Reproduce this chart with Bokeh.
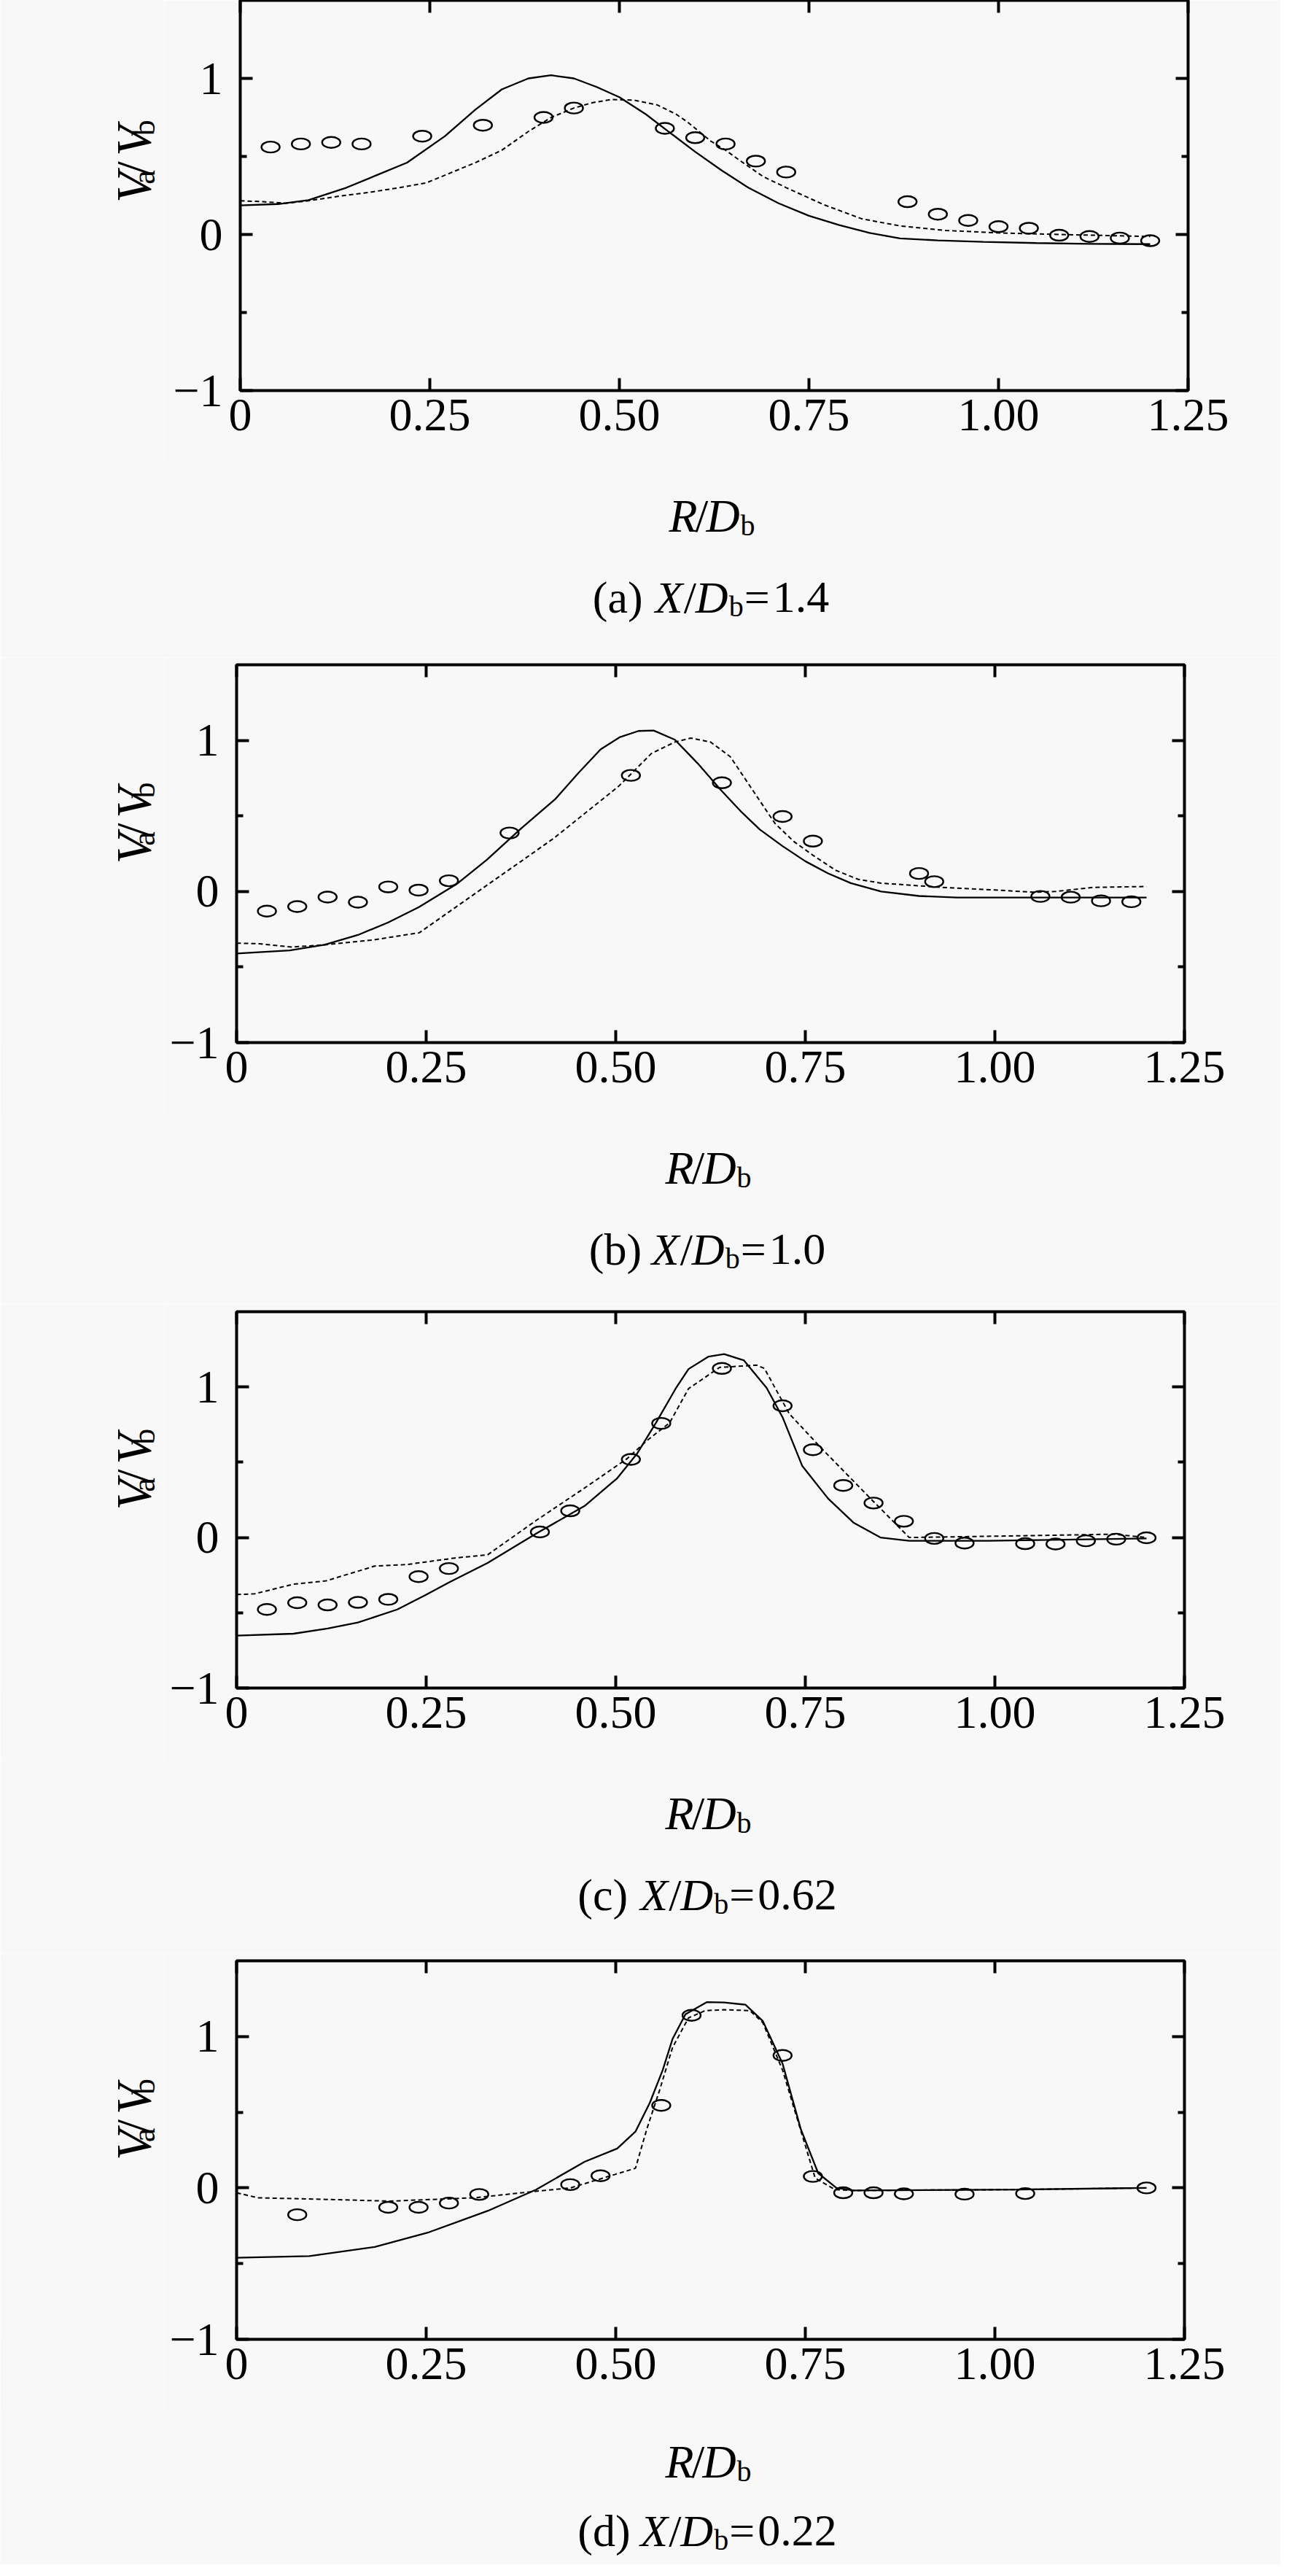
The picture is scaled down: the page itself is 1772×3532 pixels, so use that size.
import math
from bokeh.plotting import figure
from bokeh.models import (LinearAxis, FixedTicker, Range1d, CustomJSTickFormatter,
                          CustomLabelingPolicy)
from bokeh.layouts import column, row
from bokeh.core.properties import value
from bokeh.embed import file_html
from bokeh.resources import INLINE

FONT = "Liberation Serif"
BG = "#f8f8f8"

# ---------------- data ----------------
x_ticks = [0, 0.25, 0.5, 0.75, 1.0, 1.25]
y_ticks = [-1, 0, 1]
y_minor = [-0.5, 0.5]
panel_tags = ["(a)", "(b)", "(c)", "(d)"]
panel_xd = ["1.4", "1.0", "0.62", "0.22"]

# (a) X/Db = 1.4
a_exp_x = [0.04, 0.08, 0.12, 0.16, 0.24, 0.32, 0.40, 0.44, 0.56, 0.60, 0.64, 0.68, 0.72,
           0.88, 0.92, 0.96, 1.00, 1.04, 1.08, 1.12, 1.16, 1.20]
a_exp_y = [0.56, 0.58, 0.59, 0.58, 0.63, 0.70, 0.75, 0.81, 0.68, 0.62, 0.58, 0.47, 0.40,
           0.21, 0.13, 0.09, 0.05, 0.04, -0.005, -0.013, -0.023, -0.04]
a_sol_x = [0, 0.05, 0.09, 0.14, 0.18, 0.22, 0.27, 0.31, 0.345, 0.38, 0.41, 0.44, 0.47, 0.50,
           0.535, 0.57, 0.60, 0.635, 0.67, 0.71, 0.75, 0.79, 0.83, 0.87, 0.92, 0.98, 1.05, 1.12, 1.20]
a_sol_y = [0.186, 0.195, 0.22, 0.30, 0.38, 0.46, 0.63, 0.80, 0.93, 1.00, 1.02, 1.00, 0.945, 0.88,
           0.77, 0.64, 0.53, 0.41, 0.30, 0.20, 0.12, 0.06, 0.01, -0.025, -0.038, -0.047, -0.055, -0.06, -0.062]
a_dash_x = [0, 0.03, 0.06, 0.09, 0.13, 0.17, 0.21, 0.245, 0.28, 0.31, 0.345, 0.38, 0.41, 0.44,
            0.465, 0.49, 0.52, 0.55, 0.575, 0.59, 0.62, 0.64, 0.66, 0.69, 0.72, 0.77, 0.82, 0.87,
            0.93, 1.00, 1.08, 1.20]
a_dash_y = [0.216, 0.21, 0.2, 0.216, 0.245, 0.27, 0.30, 0.33, 0.40, 0.46, 0.54, 0.66, 0.75, 0.81,
            0.845, 0.865, 0.86, 0.83, 0.77, 0.72, 0.60, 0.54, 0.47, 0.37, 0.30, 0.19, 0.10, 0.055,
            0.026, 0.01, 0.0, -0.013]

# (b) X/Db = 1.0
b_exp_x = [0.04, 0.08, 0.12, 0.16, 0.20, 0.24, 0.28, 0.36, 0.52, 0.64, 0.72, 0.76, 0.90, 0.92,
           1.06, 1.10, 1.14, 1.18]
b_exp_y = [-0.13, -0.10, -0.037, -0.071, 0.03, 0.009, 0.071, 0.387, 0.768, 0.719, 0.496, 0.333,
           0.119, 0.065, -0.033, -0.038, -0.062, -0.068]
b_sol_x = [0, 0.07, 0.116, 0.16, 0.20, 0.24, 0.29, 0.33, 0.375, 0.42, 0.45, 0.48, 0.505, 0.53,
           0.55, 0.578, 0.608, 0.638, 0.665, 0.69, 0.72, 0.75, 0.78, 0.81, 0.85, 0.90, 0.95, 1.05, 1.20]
b_sol_y = [-0.411, -0.39, -0.353, -0.288, -0.205, -0.105, 0.048, 0.21, 0.416, 0.61, 0.78, 0.94,
           1.02, 1.062, 1.065, 1.004, 0.848, 0.675, 0.53, 0.41, 0.30, 0.20, 0.12, 0.055, 0.0,
           -0.03, -0.04, -0.04, -0.04]
b_dash_x = [0, 0.03, 0.073, 0.116, 0.181, 0.241, 0.289, 0.332, 0.375, 0.418, 0.461, 0.504, 0.53,
            0.547, 0.578, 0.599, 0.625, 0.651, 0.67, 0.69, 0.71, 0.735, 0.76, 0.79, 0.82, 0.85,
            0.93, 1.00, 1.05, 1.08, 1.13, 1.20]
b_dash_y = [-0.342, -0.346, -0.368, -0.353, -0.32, -0.273, -0.104, 0.048, 0.199, 0.351, 0.524,
            0.697, 0.827, 0.913, 0.989, 1.015, 0.989, 0.892, 0.75, 0.60, 0.45, 0.33, 0.24, 0.14,
            0.08, 0.055, 0.027, 0.01, -0.005, 0.0, 0.027, 0.033]

# (c) X/Db = 0.62
c_exp_x = [0.04, 0.08, 0.12, 0.16, 0.20, 0.24, 0.28, 0.40, 0.44, 0.52, 0.56, 0.64, 0.72, 0.76,
           0.80, 0.84, 0.88, 0.92, 0.96, 1.04, 1.08, 1.12, 1.16, 1.20]
c_exp_y = [-0.478, -0.433, -0.448, -0.431, -0.411, -0.26, -0.206, 0.037, 0.177, 0.519, 0.758,
           1.123, 0.875, 0.583, 0.346, 0.229, 0.108, -0.006, -0.037, -0.041, -0.043, -0.022,
           -0.011, -0.002]
c_sol_x = [0, 0.075, 0.12, 0.16, 0.212, 0.25, 0.28, 0.331, 0.395, 0.459, 0.502, 0.528, 0.553,
           0.579, 0.596, 0.622, 0.643, 0.669, 0.699, 0.72, 0.746, 0.78, 0.814, 0.849, 0.887, 0.99, 1.20]
c_sol_y = [-0.652, -0.639, -0.605, -0.565, -0.478, -0.38, -0.299, -0.169, 0.026, 0.21, 0.394,
           0.556, 0.762, 0.989, 1.119, 1.201, 1.218, 1.177, 0.994, 0.799, 0.475, 0.259, 0.097,
           0.0, -0.022, -0.022, -0.006]
c_dash_x = [0, 0.024, 0.075, 0.118, 0.182, 0.224, 0.288, 0.331, 0.395, 0.459, 0.515, 0.541,
            0.571, 0.596, 0.637, 0.686, 0.696, 0.729, 0.771, 0.836, 0.887, 1.029, 1.157, 1.20]
c_dash_y = [-0.379, -0.374, -0.31, -0.288, -0.19, -0.18, -0.136, -0.115, 0.113, 0.329, 0.524,
            0.643, 0.762, 0.989, 1.13, 1.145, 1.123, 0.821, 0.594, 0.259, 0.0, 0.011, 0.022, 0.0]

# (d) X/Db = 0.22
d_exp_x = [0.08, 0.20, 0.24, 0.28, 0.32, 0.44, 0.48, 0.56, 0.60, 0.72, 0.76, 0.80, 0.84, 0.88,
           0.96, 1.04, 1.20]
d_exp_y = [-0.177, -0.128, -0.128, -0.10, -0.043, 0.022, 0.08, 0.545, 1.14, 0.875, 0.076,
           -0.032, -0.032, -0.039, -0.041, -0.037, 0.0]
d_sol_x = [0, 0.096, 0.182, 0.254, 0.331, 0.395, 0.459, 0.502, 0.526, 0.545, 0.562, 0.575, 0.592,
           0.62, 0.643, 0.671, 0.694, 0.72, 0.744, 0.767, 0.791, 0.814, 1.029, 1.20]
d_sol_y = [-0.461, -0.45, -0.39, -0.292, -0.152, -0.011, 0.173, 0.26, 0.372, 0.563, 0.779, 0.985,
           1.147, 1.227, 1.225, 1.21, 1.102, 0.821, 0.389, 0.097, 0.0, -0.017, -0.011, 0.0]
d_dash_x = [0, 0.028, 0.118, 0.203, 0.314, 0.395, 0.44, 0.48, 0.526, 0.541, 0.558, 0.575, 0.596,
            0.618, 0.643, 0.677, 0.694, 0.72, 0.746, 0.763, 0.789, 0.814, 1.029, 1.20]
d_dash_y = [-0.032, -0.065, -0.076, -0.087, -0.065, -0.022, 0.0, 0.06, 0.13, 0.389, 0.648, 0.929,
            1.123, 1.171, 1.177, 1.171, 1.091, 0.778, 0.346, 0.065, -0.011, -0.017, -0.011, 0.0]

# ---------------- layout constants ----------------
W = 1756          # full width of a panel (page px)
YW = 225          # width of the strip holding the rotated y title
FRAME_W = 1300
BOT = 100         # space under the frame inside the main figure (tick labels)
TICK_FS = 64
TITLE_FS = 64
CAP_FS = 62
SUB_FS = 40
YL_FS = 68
YSUB_FS = 44

ADV = {"(": 0.333, ")": 0.333, "a": 0.444, "b": 0.5, "c": 0.444, "d": 0.5, "=": 0.564,
       ".": 0.25, "0": 0.5, "1": 0.5, "2": 0.5, "4": 0.5, "6": 0.5}

HIDE_ALL = "for (const i of indices) indices.unset(i); return indices"


def piece(p, x, y, s, size, italic=False, angle=0.0):
    p.text(x=[x], y=[y], text=[s], angle=angle,
           text_font=value(FONT), text_font_size=value(f"{size}px"),
           text_font_style=value("italic" if italic else "normal"),
           text_align=value("left"), text_baseline=value("alphabetic"),
           text_color="black")


def blank(width, height):
    f = figure(width=width, height=height, x_range=Range1d(0, width), y_range=Range1d(0, height),
               x_axis_type=None, y_axis_type=None, output_backend="svg", toolbar_location=None,
               min_border=0, background_fill_color=BG, border_fill_color=BG)
    f.outline_line_color = None
    return f


def make_panel(ex, ey, sx, sy, dx, dy, tag, xd, left, top, frame_h, cap_h,
               title_base=72, cap_base=183):
    mw = W - YW
    mh = top + frame_h + BOT
    p = figure(width=mw, height=mh,
               x_range=Range1d(0, 1.25), y_range=Range1d(-1, 1.5),
               x_axis_type=None, y_axis_type=None,
               output_backend="svg", toolbar_location=None,
               min_border_left=left - YW, min_border_right=mw - (left - YW) - FRAME_W,
               min_border_top=top, min_border_bottom=BOT,
               background_fill_color=BG, border_fill_color=BG)
    p.outline_line_color = "black"
    p.outline_line_width = 4
    p.outline_line_alpha = 1.0

    xfmt = CustomJSTickFormatter(code='return tick === 0 ? "0" : tick.toFixed(2);')
    yfmt = CustomJSTickFormatter(code='return tick < 0 ? "\u2212" + Math.abs(tick) : String(tick);')
    nofmt = CustomJSTickFormatter(code='return "";')

    for loc in ("below", "above"):
        ax = LinearAxis(ticker=FixedTicker(ticks=x_ticks))
        ax.axis_line_color = None
        ax.major_tick_in = 17
        ax.major_tick_out = 0
        ax.major_tick_line_width = 4
        ax.major_tick_line_color = "black"
        ax.minor_tick_line_color = None
        ax.major_label_text_font = FONT
        ax.major_label_text_font_size = f"{TICK_FS}px"
        ax.major_label_text_color = "black"
        if loc == "below":
            ax.formatter = xfmt
            ax.major_label_standoff = 12
        else:
            ax.formatter = nofmt
            ax.major_label_policy = CustomLabelingPolicy(code=HIDE_ALL)
            ax.major_label_standoff = 0
        p.add_layout(ax, loc)

    for loc in ("left", "right"):
        ay = LinearAxis(ticker=FixedTicker(ticks=y_ticks, minor_ticks=y_minor))
        ay.axis_line_color = None
        ay.major_tick_in = 17
        ay.major_tick_out = 0
        ay.minor_tick_in = 9
        ay.minor_tick_out = 0
        ay.major_tick_line_width = 4
        ay.minor_tick_line_width = 4
        ay.major_tick_line_color = "black"
        ay.minor_tick_line_color = "black"
        ay.major_label_text_font = FONT
        ay.major_label_text_font_size = f"{TICK_FS}px"
        ay.major_label_text_color = "black"
        if loc == "left":
            ay.formatter = yfmt
            ay.major_label_standoff = 24
        else:
            ay.formatter = nofmt
            ay.major_label_policy = CustomLabelingPolicy(code=HIDE_ALL)
            ay.major_label_standoff = 0
        p.add_layout(ay, loc)

    p.line(sx, sy, line_color="black", line_width=2.3)
    p.line(dx, dy, line_color="black", line_width=2.0, line_dash="6 4")
    p.ellipse(x=ex, y=ey, width=25, height=15, width_units="screen", height_units="screen",
              fill_color=None, line_color="black", line_width=2.4)

    # ---- rotated y title  V_a / V_b  in its own strip
    yl = blank(YW, mh)
    ymid = mh - top - frame_h / 2.0
    bx = 182
    rot = math.pi / 2
    piece(yl, bx, ymid - 62, "V", YL_FS, True, rot)
    piece(yl, bx + 15, ymid - 32, "a", YSUB_FS, False, rot)
    piece(yl, bx, ymid - 17, "/", YL_FS, False, rot)
    piece(yl, bx, ymid + 14, "V", YL_FS, True, rot)
    piece(yl, bx + 15, ymid + 47, "b", YSUB_FS, False, rot)

    # ---- x title and caption in a strip under the panel
    cap = blank(W, cap_h)
    cx = left + FRAME_W / 2.0
    yb = cap_h - title_base
    piece(cap, cx - 62, yb, "R", TITLE_FS, True)
    piece(cap, cx - 26, yb, "/", TITLE_FS, False)
    piece(cap, cx - 11, yb, "D", TITLE_FS, True)
    piece(cap, cx + 36, yb - 13, "b", SUB_FS, False)

    vw = sum(ADV.get(ch, 0.5) for ch in xd) * CAP_FS
    total = 250 + vw
    s = cx - 3 - total / 2.0
    yc = cap_h - cap_base
    piece(cap, s, yc, tag, CAP_FS, False)
    piece(cap, s + 86, yc, "X", CAP_FS, True)
    piece(cap, s + 125, yc, "/", CAP_FS, False)
    piece(cap, s + 141, yc, "D", CAP_FS, True)
    piece(cap, s + 187, yc - 13, "b", SUB_FS, False)
    piece(cap, s + 208, yc, "=", CAP_FS, False)
    piece(cap, s + 247, yc, xd, CAP_FS, False)

    return column(row(yl, p), cap)


pa = make_panel(a_exp_x, a_exp_y, a_sol_x, a_sol_y, a_dash_x, a_dash_y,
                panel_tags[0], panel_xd[0], left=329, top=0, frame_h=535, cap_h=266)
pb = make_panel(b_exp_x, b_exp_y, b_sol_x, b_sol_y, b_dash_x, b_dash_y,
                panel_tags[1], panel_xd[1], left=324, top=10, frame_h=518, cap_h=259)
pc = make_panel(c_exp_x, c_exp_y, c_sol_x, c_sol_y, c_dash_x, c_dash_y,
                panel_tags[2], panel_xd[2], left=324, top=10, frame_h=516, cap_h=264)
pd = make_panel(d_exp_x, d_exp_y, d_sol_x, d_sol_y, d_dash_x, d_dash_y,
                panel_tags[3], panel_xd[3], left=324, top=10, frame_h=519, cap_h=209,
                title_base=68, cap_base=162)

layout = column(pa, pb, pc, pd)

with open("out.html", "w", encoding="utf-8") as f:
    f.write(file_html(layout, INLINE))
